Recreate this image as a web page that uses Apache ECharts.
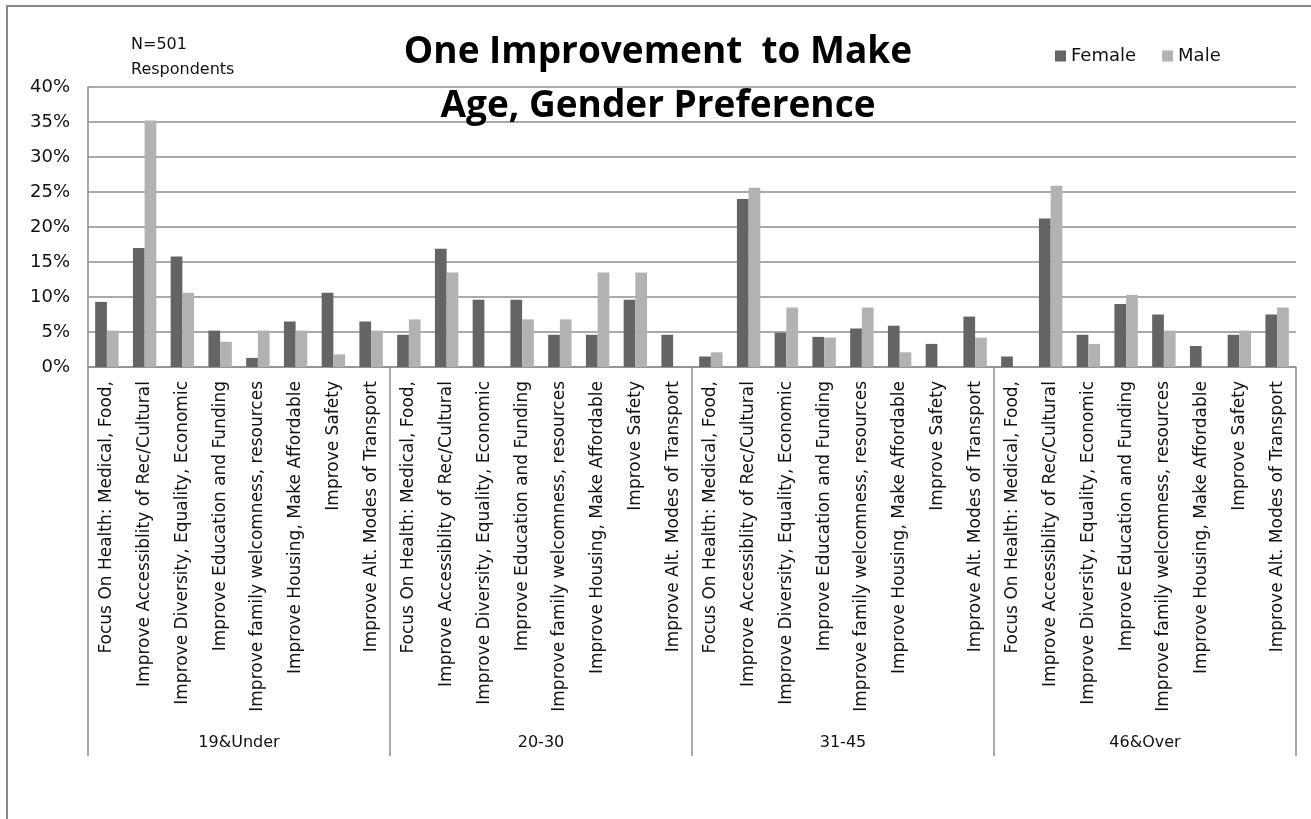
<!DOCTYPE html>
<html>
<head>
<meta charset="utf-8">
<script src="https://cdn.jsdelivr.net/npm/echarts@6/dist/echarts.min.js"></script>
<style>
  html, body { margin: 0; padding: 0; background: #fff; }
  #chart { width: 1311px; height: 819px; }
</style>
</head>
<body>
<div id="chart"></div>
<script>
// age groups and the eight answers repeated in each of them
const ageGroups = ["19&Under", "20-30", "31-45", "46&Over"];
const answers = [
  "Focus On Health: Medical, Food,",
  "Improve Accessiblity of Rec/Cultural",
  "Improve Diversity, Equality, Economic",
  "Improve Education and Funding",
  "Improve family welcomness, resources",
  "Improve Housing, Make Affordable",
  "Improve Safety",
  "Improve Alt. Modes of Transport"
];
const yTicks = [0, 0.05, 0.1, 0.15, 0.2, 0.25, 0.3, 0.35, 0.4];

// share of respondents, one value per answer, groups in order
const femaleValues = [
  0.093, 0.170, 0.158, 0.052, 0.013, 0.065, 0.106, 0.065,
  0.046, 0.169, 0.096, 0.096, 0.046, 0.046, 0.096, 0.046,
  0.015, 0.240, 0.049, 0.043, 0.055, 0.059, 0.033, 0.072,
  0.015, 0.212, 0.046, 0.090, 0.075, 0.030, 0.046, 0.075
];
const maleValues = [
  0.052, 0.352, 0.106, 0.036, 0.052, 0.052, 0.018, 0.052,
  0.068, 0.135, 0, 0.068, 0.068, 0.135, 0.135, 0,
  0.021, 0.256, 0.085, 0.042, 0.085, 0.021, 0, 0.042,
  0, 0.259, 0.033, 0.103, 0.052, 0, 0.052, 0.085
];

const categories = [];
ageGroups.forEach(function () {
  answers.forEach(function (a) { categories.push(a); });
});

const gridColor = "#8e8e8e";
const labelFont = "'DejaVu Sans', sans-serif";
const titleFont = "'Open Sans', 'DejaVu Sans', sans-serif";

const chart = echarts.init(document.getElementById("chart"), null, {renderer: "canvas"});

chart.setOption({
  backgroundColor: "#ffffff",
  animation: false,
  grid: {
    left: 88,
    right: 15,
    top: 87,
    bottom: 452
  },
  legend: {
    data: ["Female", "Male"],
    left: 1050,
    top: 42,
    icon: "rect",
    itemWidth: 11,
    itemHeight: 11,
    itemGap: 26,
    textStyle: {
      fontFamily: labelFont,
      fontSize: 18,
      color: "#111"
    }
  },
  xAxis: [
    {
      type: "category",
      data: categories,
      axisLine: {show: true, lineStyle: {color: gridColor, width: 1.5}},
      axisTick: {show: false},
      axisLabel: {
        interval: 0,
        rotate: 90,
        margin: 14,
        fontFamily: labelFont,
        fontSize: 17,
        color: "#111"
      }
    },
    {
      type: "category",
      data: ageGroups,
      position: "bottom",
      offset: 389,
      axisLine: {show: false},
      axisTick: {
        show: true,
        inside: true,
        length: 389,
        interval: 0,
        lineStyle: {color: gridColor, width: 1.5}
      },
      axisLabel: {
        margin: -21,
        fontFamily: labelFont,
        fontSize: 16,
        color: "#111"
      }
    }
  ],
  yAxis: {
    type: "value",
    min: yTicks[0],
    max: yTicks[yTicks.length - 1],
    interval: 0.05,
    axisLine: {show: true, lineStyle: {color: gridColor, width: 1.5}},
    axisTick: {show: false},
    splitLine: {show: true, lineStyle: {color: gridColor, width: 1.5}},
    axisLabel: {
      margin: 18,
      fontFamily: labelFont,
      fontSize: 18,
      color: "#111",
      formatter: function (v) { return Math.round(v * 100) + "%"; }
    }
  },
  series: [
    {
      name: "Female",
      type: "bar",
      data: femaleValues,
      barGap: "0%",
      barCategoryGap: "38%",
      itemStyle: {color: "#646464"}
    },
    {
      name: "Male",
      type: "bar",
      data: maleValues,
      itemStyle: {color: "#b2b2b2"}
    }
  ],
  graphic: [
    {
      type: "rect",
      shape: {x: 7, y: 6, width: 1330, height: 840},
      style: {fill: "none", stroke: "#888", lineWidth: 2},
      silent: true,
      z: -10
    },
    {
      type: "text",
      x: 131, y: 45,
      style: {text: "N=501", font: "16px " + labelFont, fill: "#111", textVerticalAlign: "middle"}
    },
    {
      type: "text",
      x: 131, y: 70,
      style: {text: "Respondents", font: "16px " + labelFont, fill: "#111", textVerticalAlign: "middle"}
    },
    {
      type: "text",
      x: 658, y: 52,
      style: {
        text: "One Improvement  to Make",
        font: "bold 37px " + titleFont,
        fill: "#000",
        textAlign: "center",
        textVerticalAlign: "middle"
      },
      z: 100
    },
    {
      type: "text",
      x: 658, y: 106,
      style: {
        text: "Age, Gender Preference",
        font: "bold 37px " + titleFont,
        fill: "#000",
        textAlign: "center",
        textVerticalAlign: "middle"
      },
      z: 100
    }
  ]
});
</script>
</body>
</html>
